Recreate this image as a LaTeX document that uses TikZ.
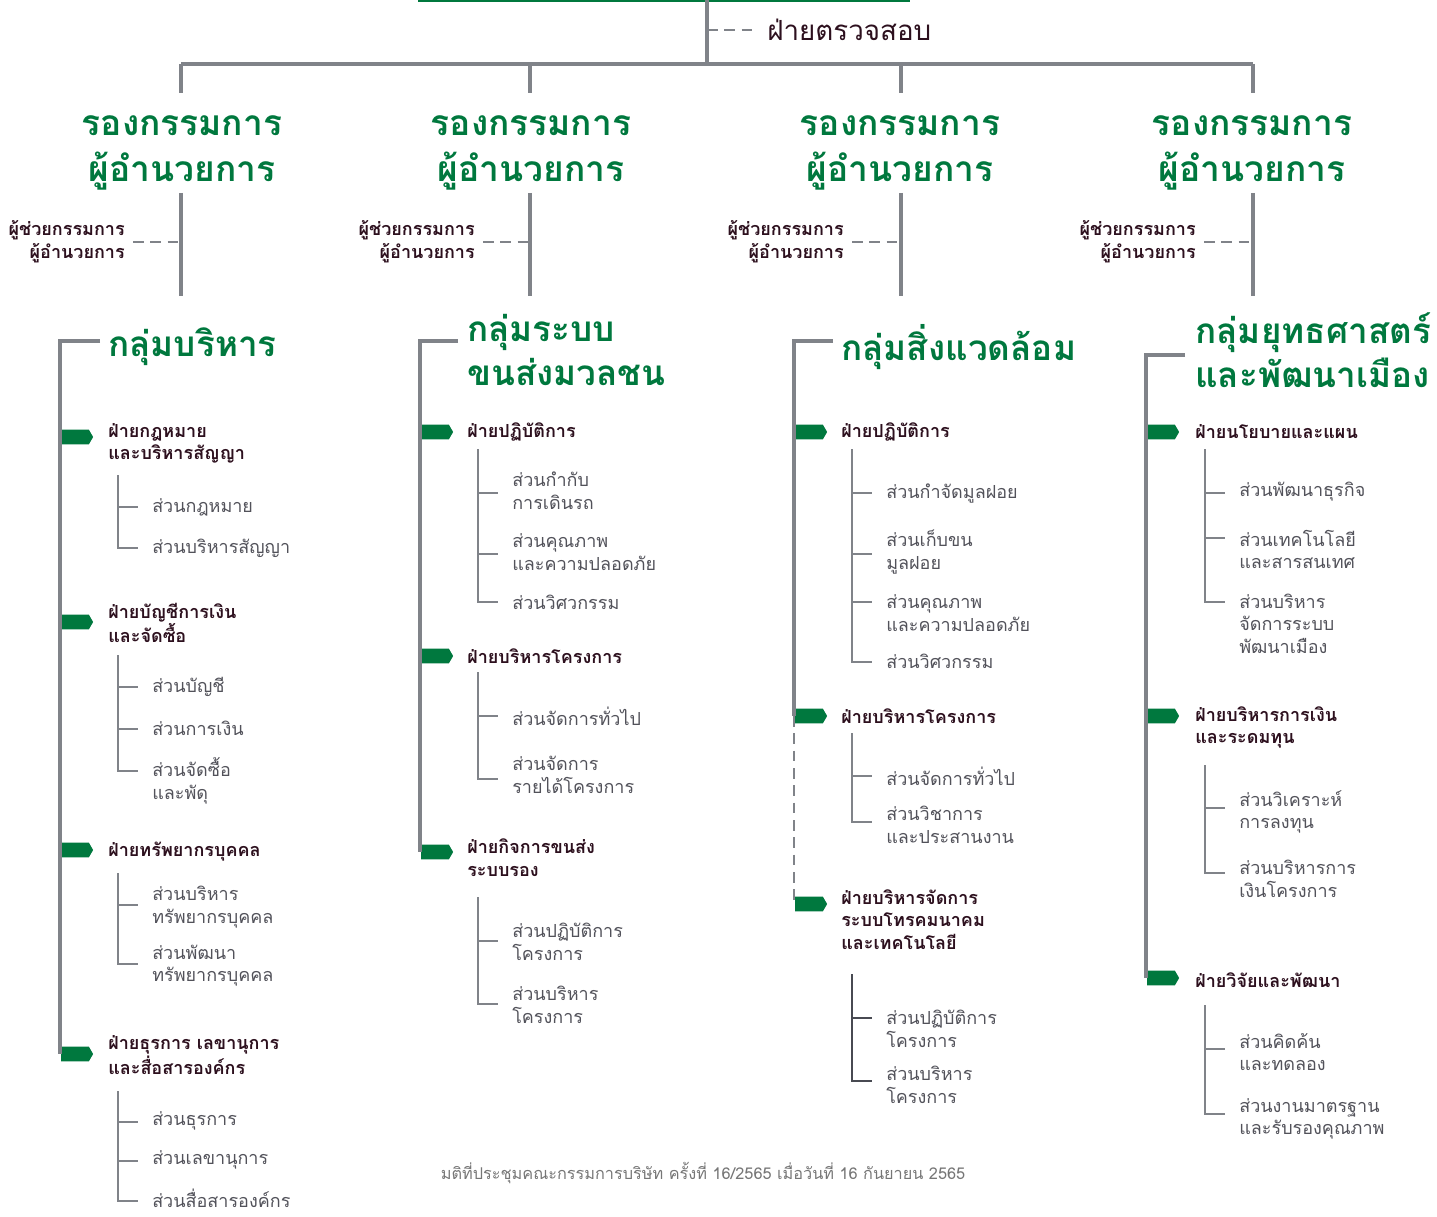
\documentclass[tikz,border=0pt]{standalone}
\usepackage{fontspec}
\setmainfont{Loma}[Script=Thai]
\usepackage{tikz}
\usetikzlibrary{positioning,shapes.symbols}

\definecolor{grpgreen}{RGB}{0,120,62}
\definecolor{deptink}{RGB}{45,16,30}
\definecolor{subink}{RGB}{82,82,90}
\definecolor{linegray}{RGB}{128,131,137}
\definecolor{linedark}{RGB}{72,74,82}
\definecolor{notegray}{RGB}{118,118,118}

\tikzset{
  trunk/.style={draw=linegray,line width=2.4pt},
  twig/.style={draw=linegray,line width=2.2pt},
  dashline/.style={draw=linegray,line width=2.2pt,dash pattern=on 8pt off 5pt},
  flag/.style={signal,signal to=east,signal pointer angle=120,fill=grpgreen,draw=none,minimum width=24pt,minimum height=11pt,inner sep=0pt},
  vptitle/.style={font=\fontsize{26.5}{35}\selectfont\bfseries,text=grpgreen,align=center,inner sep=0pt},
  grptitle/.style={font=\fontsize{26.3}{33}\selectfont\bfseries,text=grpgreen,align=left,anchor=west,inner sep=0pt},
  depttext/.style={font=\fontsize{13.5}{17}\selectfont\bfseries,text=deptink,align=left,anchor=west,inner sep=0pt},
  subtext/.style={font=\fontsize{13.5}{17}\selectfont,text=subink,align=left,anchor=west,inner sep=0pt},
  asstext/.style={font=\fontsize{13.5}{17}\selectfont\bfseries,text=deptink,align=right,anchor=east,inner sep=0pt},
}

\begin{document}
\begin{tikzpicture}[x=0.75pt,y=0.75pt,yscale=-1,xscale=1]
\useasboundingbox (0,0) rectangle (1437,1216);

%Straight Lines (edge of the box above)
\draw [draw=grpgreen,line width=2.2pt] (418,1) -- (910,1);

%Straight Lines (main trunk)
\coordinate (top) at (707,0);
\coordinate (bar) at (707,64);
\draw [trunk] (top) -- (bar);
% Text Node
\node [font=\fontsize{20.8}{24}\selectfont,text=deptink,anchor=west,inner sep=0pt] (audit) at (767,30) {ฝ่ายตรวจสอบ};
\draw [dashline,shorten >=9pt] (bar |- audit.west) -- (audit.west);
\draw [trunk] (181,64) -- (1253,64);
\foreach \cx in {181,530,901,1253} \draw [trunk] (\cx,64) -- (\cx,93);

% Text Node
\node [vptitle] (vpA) at (182,153) {รองกรรมการ\\ผู้อำนวยการ};
\node [vptitle] (vpB) at (531,153) {รองกรรมการ\\ผู้อำนวยการ};
\node [vptitle] (vpC) at (900,153) {รองกรรมการ\\ผู้อำนวยการ};
\node [vptitle] (vpD) at (1252,153) {รองกรรมการ\\ผู้อำนวยการ};
\foreach \cx in {181,530,901,1253} \draw [trunk] (\cx,193) -- (\cx,296);

% Text Node
\node [asstext] (asA) at (125,242) {ผู้ช่วยกรรมการ\\ผู้อำนวยการ};
\node [asstext] (asB) at (475,242) {ผู้ช่วยกรรมการ\\ผู้อำนวยการ};
\node [asstext] (asC) at (844,242) {ผู้ช่วยกรรมการ\\ผู้อำนวยการ};
\node [asstext] (asD) at (1196,242) {ผู้ช่วยกรรมการ\\ผู้อำนวยการ};
\draw [dashline,shorten <=6pt] (asA.east) -- (181,242);
\draw [dashline,shorten <=6pt] (asB.east) -- (530,242);
\draw [dashline,shorten <=6pt] (asC.east) -- (901,242);
\draw [dashline,shorten <=6pt] (asD.east) -- (1253,242);

%---------------- กลุ่มบริหาร
\coordinate (gA) at (60,341);
\node [grptitle] (grpA) at (108,347) {กลุ่มบริหาร};
\node [flag] (fA1) at (75,437) {};
\node [flag] (fA2) at (75,622) {};
\node [flag] (fA3) at (75,850) {};
\node [flag] (fA4) at (75,1054) {};
\draw [trunk] (100,341) -- (gA) -- (gA |- fA4);

\node [depttext] (dA1) at (108,443.5) {ฝ่ายกฎหมาย\\และบริหารสัญญา};
\draw [twig] (118,475) -- (118,548) -- ++(20,0);
\foreach \ty in {507} \draw [twig] (118,\ty) -- ++(20,0);
\node [subtext] (sA11) at (152,507) {ส่วนกฎหมาย};
\node [subtext] (sA12) at (152,548) {ส่วนบริหารสัญญา};

\node [depttext] (dA2) at (108,623) {ฝ่ายบัญชีการเงิน\\และจัดซื้อ};
\draw [twig] (118,655) -- (118,771) -- ++(20,0);
\foreach \ty in {687,729} \draw [twig] (118,\ty) -- ++(20,0);
\node [subtext] (sA21) at (152,687) {ส่วนบัญชี};
\node [subtext] (sA22) at (152,728) {ส่วนการเงิน};
\node [subtext] (sA23) at (152,781) {ส่วนจัดซื้อ\\และพัดุ};

\node [depttext] (dA3) at (108,852) {ฝ่ายทรัพยากรบุคคล};
\draw [twig] (118,873) -- (118,964) -- ++(20,0);
\foreach \ty in {905} \draw [twig] (118,\ty) -- ++(20,0);
\node [subtext] (sA31) at (152,907) {ส่วนบริหาร\\ทรัพยากรบุคคล};
\node [subtext] (sA32) at (152,965.5) {ส่วนพัฒนา\\ทรัพยากรบุคคล};

\node [depttext] (dA4) at (108,1055) {ฝ่ายธุรการ เลขานุการ\\และสื่อสารองค์กร};
\draw [twig] (118,1091) -- (118,1201) -- ++(20,0);
\foreach \ty in {1122,1161} \draw [twig] (118,\ty) -- ++(20,0);
\node [subtext] (sA41) at (152,1121) {ส่วนธุรการ};
\node [subtext] (sA42) at (152,1160) {ส่วนเลขานุการ};
\node [subtext] (sA43) at (152,1198) {ส่วนสื่อสารองค์กร};

%---------------- กลุ่มระบบขนส่งมวลชน
\coordinate (gB) at (420,341);
\node [grptitle] (grpB) at (467,350) {กลุ่มระบบ\\ขนส่งมวลชน};
\node [flag] (fB1) at (435,432) {};
\node [flag] (fB2) at (435,656) {};
\node [flag] (fB3) at (435,852) {};
\draw [trunk] (458,341) -- (gB) -- (gB |- fB3);

\node [depttext] (dB1) at (467,432) {ฝ่ายปฏิบัติการ};
\draw [twig] (478,449) -- (478,602) -- ++(20,0);
\foreach \ty in {493,554} \draw [twig] (478,\ty) -- ++(20,0);
\node [subtext] (sB11) at (512,491) {ส่วนกำกับ\\การเดินรถ};
\node [subtext] (sB12) at (512,552) {ส่วนคุณภาพ\\และความปลอดภัย};
\node [subtext] (sB13) at (512,602) {ส่วนวิศวกรรม};

\node [depttext] (dB2) at (467,656) {ฝ่ายบริหารโครงการ};
\draw [twig] (478,672) -- (478,779) -- ++(20,0);
\foreach \ty in {716} \draw [twig] (478,\ty) -- ++(20,0);
\node [subtext] (sB21) at (512,716) {ส่วนจัดการทั่วไป};
\node [subtext] (sB22) at (512,775) {ส่วนจัดการ\\รายได้โครงการ};

\node [depttext] (dB3) at (467,857.5) {ฝ่ายกิจการขนส่ง\\ระบบรอง};
\draw [twig] (478,897) -- (478,1004) -- ++(20,0);
\foreach \ty in {941} \draw [twig] (478,\ty) -- ++(20,0);
\node [subtext] (sB31) at (512,942) {ส่วนปฏิบัติการ\\โครงการ};
\node [subtext] (sB32) at (512,1005) {ส่วนบริหาร\\โครงการ};

%---------------- กลุ่มสิ่งแวดล้อม
\coordinate (gC) at (794,341);
\node [grptitle] (grpC) at (841,347) {กลุ่มสิ่งแวดล้อม};
\node [flag] (fC1) at (809,432) {};
\node [flag] (fC2) at (809,716) {};
\node [flag] (fC3) at (809,904) {};
\draw [trunk] (833,341) -- (gC) -- (gC |- fC2);
\draw [dashline] (gC |- fC2) -- (gC |- fC3);

\node [depttext] (dC1) at (841,432) {ฝ่ายปฏิบัติการ};
\draw [twig] (852,449) -- (852,662) -- ++(20,0);
\foreach \ty in {493,554,602} \draw [twig] (852,\ty) -- ++(20,0);
\node [subtext] (sC11) at (886,494) {ส่วนกำจัดมูลฝอย};
\node [subtext] (sC12) at (886,552) {ส่วนเก็บขน\\มูลฝอย};
\node [subtext] (sC13) at (886,613) {ส่วนคุณภาพ\\และความปลอดภัย};
\node [subtext] (sC14) at (886,661) {ส่วนวิศวกรรม};

\node [depttext] (dC2) at (841,716) {ฝ่ายบริหารโครงการ};
\draw [twig] (852,733) -- (852,822) -- ++(20,0);
\foreach \ty in {776} \draw [twig] (852,\ty) -- ++(20,0);
\node [subtext] (sC21) at (886,776) {ส่วนจัดการทั่วไป};
\node [subtext] (sC22) at (886,825) {ส่วนวิชาการ\\และประสานงาน};

\node [depttext] (dC3) at (841,919.5) {ฝ่ายบริหารจัดการ\\ระบบโทรคมนาคม\\และเทคโนโลยี};
\draw [twig,draw=linedark] (852,974) -- (852,1081) -- ++(20,0);
\foreach \ty in {1018} \draw [twig,draw=linedark] (852,\ty) -- ++(20,0);
\node [subtext] (sC31) at (886,1029) {ส่วนปฏิบัติการ\\โครงการ};
\node [subtext] (sC32) at (886,1085) {ส่วนบริหาร\\โครงการ};

%---------------- กลุ่มยุทธศาสตร์และพัฒนาเมือง
\coordinate (gD) at (1146,355);
\node [grptitle] (grpD) at (1195,350) {กลุ่มยุทธศาสตร์\\และพัฒนาเมือง};
\node [flag] (fD1) at (1161,432) {};
\node [flag] (fD2) at (1161,716) {};
\node [flag] (fD3) at (1161,978) {};
\draw [trunk] (1185,355) -- (gD) -- (gD |- fD3);

\node [depttext] (dD1) at (1195,432) {ฝ่ายนโยบายและแผน};
\draw [twig] (1205,449) -- (1205,602) -- ++(20,0);
\foreach \ty in {493,538} \draw [twig] (1205,\ty) -- ++(20,0);
\node [subtext] (sD11) at (1239,492) {ส่วนพัฒนาธุรกิจ};
\node [subtext] (sD12) at (1239,549.5) {ส่วนเทคโนโลยี\\และสารสนเทศ};
\node [subtext] (sD13) at (1239,623.5) {ส่วนบริหาร\\จัดการระบบ\\พัฒนาเมือง};

\node [depttext] (dD2) at (1195,727.5) {ฝ่ายบริหารการเงิน\\และระดมทุน};
\draw [twig] (1205,765) -- (1205,873) -- ++(20,0);
\foreach \ty in {808} \draw [twig] (1205,\ty) -- ++(20,0);
\node [subtext] (sD21) at (1239,812) {ส่วนวิเคราะห์\\การลงทุน};
\node [subtext] (sD22) at (1239,879) {ส่วนบริหารการ\\เงินโครงการ};

\node [depttext] (dD3) at (1195,980) {ฝ่ายวิจัยและพัฒนา};
\draw [twig] (1205,1005) -- (1205,1114) -- ++(20,0);
\foreach \ty in {1049} \draw [twig] (1205,\ty) -- ++(20,0);
\node [subtext] (sD31) at (1239,1052) {ส่วนคิดค้น\\และทดลอง};
\node [subtext] (sD32) at (1239,1119) {ส่วนงานมาตรฐาน\\และรับรองคุณภาพ};

% Text Node
\node [font=\fontsize{12.2}{14}\selectfont,text=notegray,inner sep=0pt] (note) at (703,1173) {มติที่ประชุมคณะกรรมการบริษัท ครั้งที่ 16/2565 เมื่อวันที่ 16 กันยายน 2565};

\end{tikzpicture}
\end{document}
